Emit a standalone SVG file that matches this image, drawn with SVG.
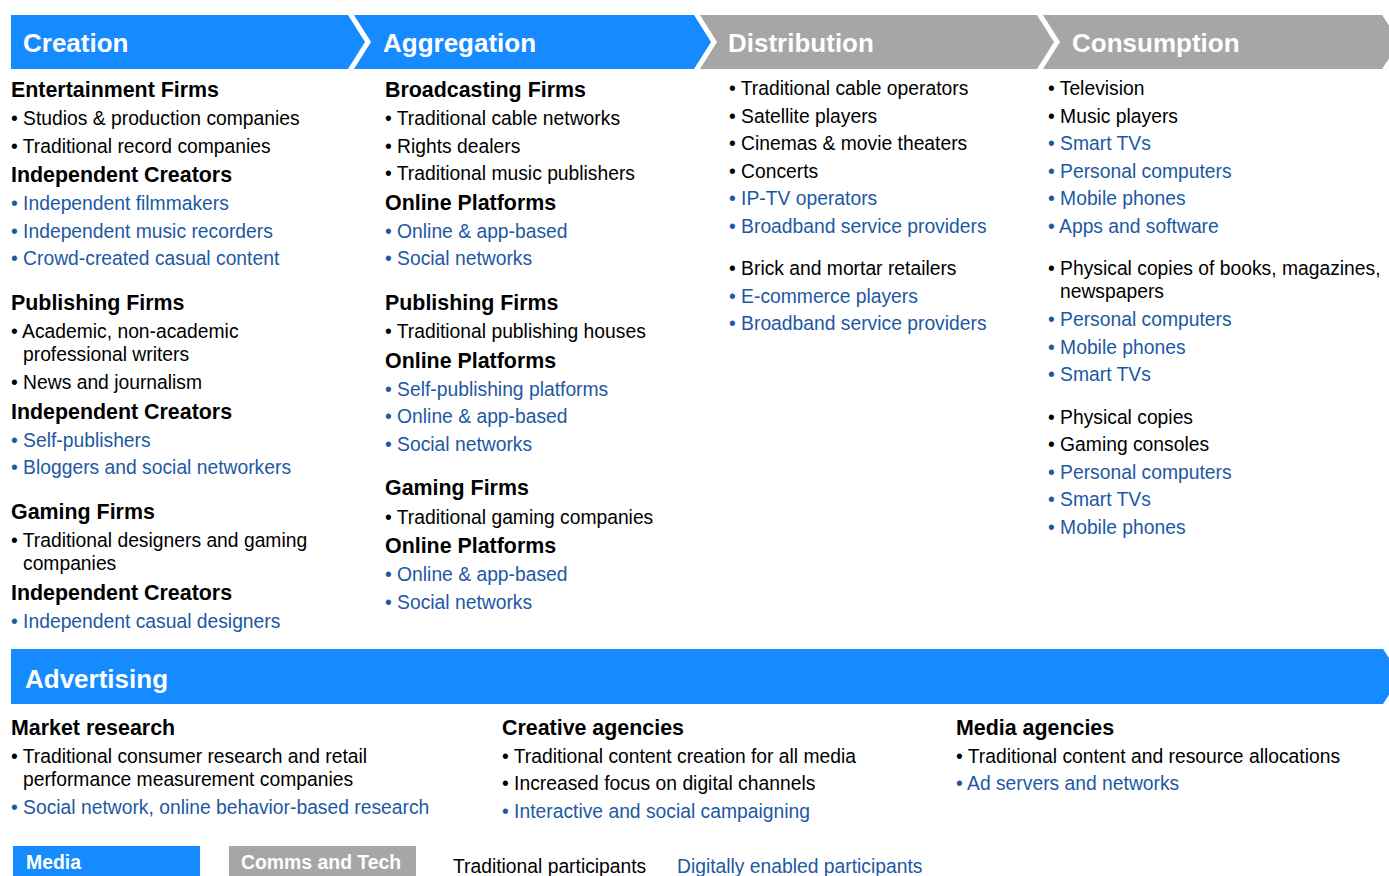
<svg xmlns="http://www.w3.org/2000/svg" width="1389" height="876" viewBox="0 0 1389 876">
<style>
text{font-family:"Liberation Sans",Arial,sans-serif;}
.hd{font-size:26px;font-weight:bold;fill:#fff;}
.h{font-size:21.4px;font-weight:bold;fill:#000;}
.t{font-size:19.3px;fill:#000;}
.b{font-size:19.3px;fill:#1D58A3;}
.lg{font-size:19.4px;font-weight:bold;fill:#fff;}
.blue{fill:#168BFF;}
.gray{fill:#A6A6A6;}
</style>
<rect width="1389" height="876" fill="#fff"/>
<g id="stage-creation">
<polygon class="blue" points="11,15 348,15 365,42 348,69 11,69"/>
<text class="hd" x="23" y="52">Creation</text>
</g>
<g id="stage-aggregation">
<polygon class="blue" points="354,15 694,15 711,42 694,69 354,69 371,42"/>
<text class="hd" x="383" y="52">Aggregation</text>
</g>
<g id="stage-distribution">
<polygon class="gray" points="700,15 1037,15 1054,42 1037,69 700,69 717,42"/>
<text class="hd" x="728" y="52">Distribution</text>
</g>
<g id="stage-consumption">
<polygon class="gray" points="1043,15 1382,15 1400,42 1382,69 1043,69 1060,42"/>
<text class="hd" x="1072" y="52">Consumption</text>
</g>
<g id="col-creation">
<text class="h" x="11" y="97">Entertainment Firms</text>
<text class="t" x="11" y="125">• Studios &amp; production companies</text>
<text class="t" x="11" y="153">• Traditional record companies</text>
<text class="h" x="11" y="182">Independent Creators</text>
<text class="b" x="11" y="210">• Independent filmmakers</text>
<text class="b" x="11" y="238">• Independent music recorders</text>
<text class="b" x="11" y="265">• Crowd-created casual content</text>
<text class="h" x="11" y="310">Publishing Firms</text>
<text class="t" x="11" y="338">• Academic, non-academic</text>
<text class="t" x="23" y="361">professional writers</text>
<text class="t" x="11" y="389">• News and journalism</text>
<text class="h" x="11" y="419">Independent Creators</text>
<text class="b" x="11" y="447">• Self-publishers</text>
<text class="b" x="11" y="474">• Bloggers and social networkers</text>
<text class="h" x="11" y="519">Gaming Firms</text>
<text class="t" x="11" y="547">• Traditional designers and gaming</text>
<text class="t" x="23" y="570">companies</text>
<text class="h" x="11" y="600">Independent Creators</text>
<text class="b" x="11" y="628">• Independent casual designers</text>
</g>
<g id="col-aggregation">
<text class="h" x="385" y="97">Broadcasting Firms</text>
<text class="t" x="385" y="125">• Traditional cable networks</text>
<text class="t" x="385" y="153">• Rights dealers</text>
<text class="t" x="385" y="180">• Traditional music publishers</text>
<text class="h" x="385" y="210">Online Platforms</text>
<text class="b" x="385" y="238">• Online &amp; app-based</text>
<text class="b" x="385" y="265">• Social networks</text>
<text class="h" x="385" y="310">Publishing Firms</text>
<text class="t" x="385" y="338">• Traditional publishing houses</text>
<text class="h" x="385" y="368">Online Platforms</text>
<text class="b" x="385" y="396">• Self-publishing platforms</text>
<text class="b" x="385" y="423">• Online &amp; app-based</text>
<text class="b" x="385" y="451">• Social networks</text>
<text class="h" x="385" y="495">Gaming Firms</text>
<text class="t" x="385" y="524">• Traditional gaming companies</text>
<text class="h" x="385" y="553">Online Platforms</text>
<text class="b" x="385" y="581">• Online &amp; app-based</text>
<text class="b" x="385" y="609">• Social networks</text>
</g>
<g id="col-distribution">
<text class="t" x="729" y="95">• Traditional cable operators</text>
<text class="t" x="729" y="123">• Satellite players</text>
<text class="t" x="729" y="150">• Cinemas &amp; movie theaters</text>
<text class="t" x="729" y="178">• Concerts</text>
<text class="b" x="729" y="205">• IP-TV operators</text>
<text class="b" x="729" y="233">• Broadband service providers</text>
<text class="t" x="729" y="275">• Brick and mortar retailers</text>
<text class="b" x="729" y="303">• E-commerce players</text>
<text class="b" x="729" y="330">• Broadband service providers</text>
</g>
<g id="col-consumption">
<text class="t" x="1048" y="95">• Television</text>
<text class="t" x="1048" y="123">• Music players</text>
<text class="b" x="1048" y="150">• Smart TVs</text>
<text class="b" x="1048" y="178">• Personal computers</text>
<text class="b" x="1048" y="205">• Mobile phones</text>
<text class="b" x="1048" y="233">• Apps and software</text>
<text class="t" x="1048" y="275">• Physical copies of books, magazines,</text>
<text class="t" x="1060" y="298">newspapers</text>
<text class="b" x="1048" y="326">• Personal computers</text>
<text class="b" x="1048" y="354">• Mobile phones</text>
<text class="b" x="1048" y="381">• Smart TVs</text>
<text class="t" x="1048" y="424">• Physical copies</text>
<text class="t" x="1048" y="451">• Gaming consoles</text>
<text class="b" x="1048" y="479">• Personal computers</text>
<text class="b" x="1048" y="506">• Smart TVs</text>
<text class="b" x="1048" y="534">• Mobile phones</text>
</g>
<g id="advertising">
<polygon class="blue" points="11,649 1383,649 1401,676 1383,704 11,704"/>
<text class="hd" x="25" y="688">Advertising</text>
</g>
<g id="adv-market-research">
<text class="h" x="11" y="735">Market research</text>
<text class="t" x="11" y="763">• Traditional consumer research and retail</text>
<text class="t" x="23" y="786">performance measurement companies</text>
<text class="b" x="11" y="814">• Social network, online behavior-based research</text>
</g>
<g id="adv-creative-agencies">
<text class="h" x="502" y="735">Creative agencies</text>
<text class="t" x="502" y="763">• Traditional content creation for all media</text>
<text class="t" x="502" y="790">• Increased focus on digital channels</text>
<text class="b" x="502" y="818">• Interactive and social campaigning</text>
</g>
<g id="adv-media-agencies">
<text class="h" x="956" y="735">Media agencies</text>
<text class="t" x="956" y="763">• Traditional content and resource allocations</text>
<text class="b" x="956" y="790">• Ad servers and networks</text>
</g>
<g id="legend">
<rect class="blue" x="13" y="846" width="187" height="30"/>
<text class="lg" x="26" y="869">Media</text>
<rect class="gray" x="229" y="846" width="187" height="30"/>
<text class="lg" x="241" y="869">Comms and Tech</text>
<text class="t" x="453" y="873">Traditional participants</text>
<text class="b" x="677" y="873">Digitally enabled participants</text>
</g>
<g id="connectors"></g>
</svg>
